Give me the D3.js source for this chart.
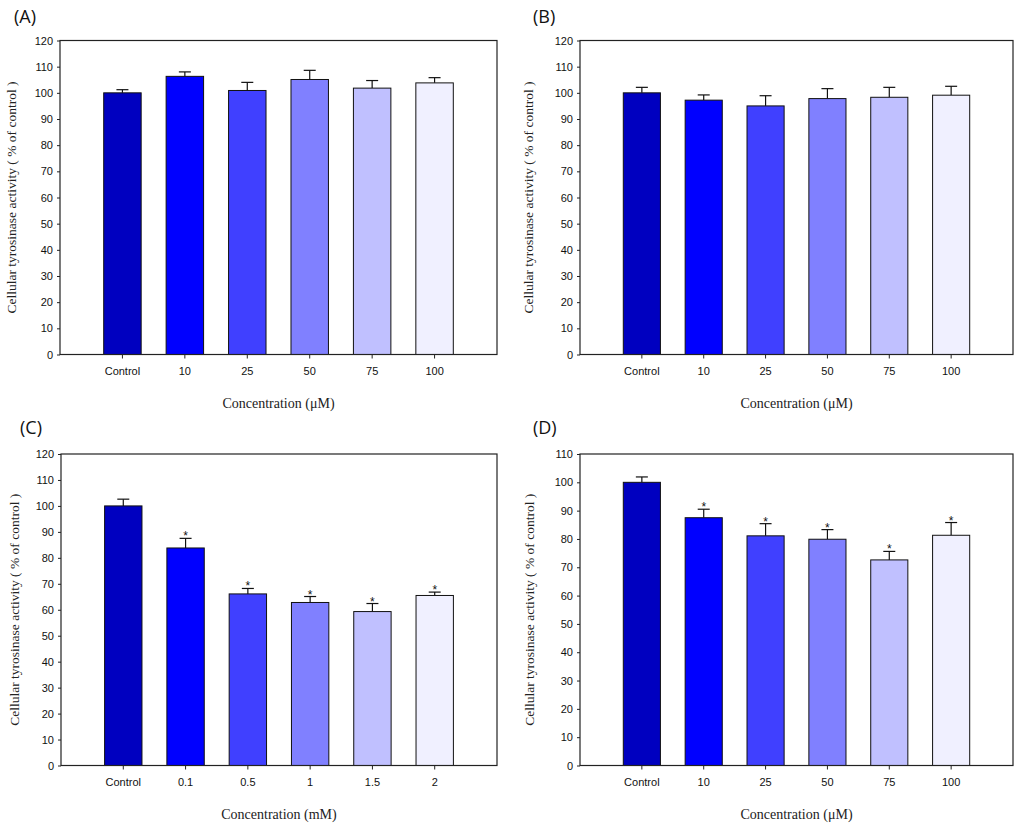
<!DOCTYPE html>
<html>
<head>
<meta charset="utf-8">
<script src="https://cdn.jsdelivr.net/npm/d3@7"></script>
<style>
  body { margin: 0; background: #fff; }
  .tick text { font-family: "Liberation Sans", Arial, sans-serif; font-size: 11px; fill: #111; }
  .tick line { stroke: #222; }
</style>
</head>
<body>
<script>
const categoriesMicro = ['Control', '10', '25', '50', '75', '100'];
const categoriesMilli = ['Control', '0.1', '0.5', '1', '1.5', '2'];
const barColors = ['#0000C0', '#0000FF', '#4040FF', '#8080FF', '#C0C0FF', '#F0F0FF'];

const meansA = [100, 106.3, 100.9, 105.1, 101.8, 103.8];
const errorsA = [1.2, 1.7, 3.1, 3.5, 2.9, 2.0];
const meansB = [100, 97.2, 95.0, 97.8, 98.3, 99.1];
const errorsB = [2.1, 2.0, 3.9, 3.8, 3.8, 3.4];
const meansC = [100, 83.8, 66.1, 62.8, 59.3, 65.5];
const errorsC = [2.6, 3.7, 2.1, 2.3, 3.1, 1.3];
const meansD = [100, 87.5, 81.1, 79.9, 72.6, 81.3];
const errorsD = [1.9, 3.0, 4.3, 3.4, 3.0, 4.5];
const starsC = [false, true, true, true, true, true];
const starsD = [false, true, true, true, true, true];

const ticks120 = d3.range(0, 121, 10);
const ticks110 = d3.range(0, 111, 10);

const Y_TITLE = 'Cellular tyrosinase activity ( % of control )';

const svg = d3.select('body')
  .append('svg')
  .attr('width', 1024)
  .attr('height', 828);

function drawPanel(p) {
  let g = svg.append('g');

  let x = d3.scaleBand()
    .domain(p.cats)
    .range([p.left, p.right])
    .paddingInner(0.4)
    .paddingOuter(0.7);

  let y = d3.scaleLinear()
    .domain([0, p.ymax])
    .range([p.bottom, p.top]);

  let rows = p.cats.map((c, i) => ({ c: c, v: p.means[i], e: p.errs[i], s: p.stars ? p.stars[i] : false, col: barColors[i] }));

  // error bars (upper only)
  g.selectAll('line.err')
    .data(rows)
    .enter()
    .append('line')
    .attr('x1', d => x(d.c) + x.bandwidth() / 2)
    .attr('x2', d => x(d.c) + x.bandwidth() / 2)
    .attr('y1', d => y(d.v))
    .attr('y2', d => y(d.v + d.e))
    .attr('stroke', '#111')
    .attr('stroke-width', 1.2);

  g.selectAll('line.cap')
    .data(rows)
    .enter()
    .append('line')
    .attr('x1', d => x(d.c) + x.bandwidth() / 2 - 6)
    .attr('x2', d => x(d.c) + x.bandwidth() / 2 + 6)
    .attr('y1', d => y(d.v + d.e))
    .attr('y2', d => y(d.v + d.e))
    .attr('stroke', '#111')
    .attr('stroke-width', 1.2);

  g.selectAll('rect.bar')
    .data(rows)
    .enter()
    .append('rect')
    .attr('x', d => x(d.c))
    .attr('y', d => y(d.v))
    .attr('width', x.bandwidth())
    .attr('height', d => y(0) - y(d.v))
    .style('fill', d => d.col)
    .style('stroke', '#111')
    .style('stroke-width', 1);

  g.selectAll('text.star')
    .data(rows.filter(d => d.s))
    .enter()
    .append('text')
    .text('*')
    .attr('x', d => x(d.c) + x.bandwidth() / 2)
    .attr('y', d => y(d.v + d.e) + 2)
    .attr('text-anchor', 'middle')
    .attr('font-family', '"Liberation Sans", Arial, sans-serif')
    .attr('font-size', '12px')
    .attr('fill', '#111');

  // frame
  g.append('rect')
    .attr('x', p.left)
    .attr('y', p.top)
    .attr('width', p.right - p.left)
    .attr('height', p.bottom - p.top)
    .style('fill', 'none')
    .style('stroke', '#222')
    .style('stroke-width', 1.2);

  let yAxis = g.append('g')
    .attr('transform', `translate(${p.left},0)`)
    .call(d3.axisLeft(y).tickValues(p.ticks).tickSize(3).tickSizeOuter(0).tickPadding(4));
  yAxis.select('.domain').remove();

  let xAxis = g.append('g')
    .attr('transform', `translate(0,${p.bottom})`)
    .call(d3.axisBottom(x).tickSize(4).tickSizeOuter(0).tickPadding(9));
  xAxis.select('.domain').remove();

  g.append('text')
    .text(p.xTitle)
    .attr('x', (p.left + p.right) / 2)
    .attr('y', p.bottom + 53)
    .attr('text-anchor', 'middle')
    .attr('font-family', '"Liberation Serif", "Times New Roman", serif')
    .attr('font-size', '14px')
    .attr('fill', '#222');

  g.append('text')
    .text(Y_TITLE)
    .attr('transform', `translate(${p.left - p.yTitleOff},${(p.top + p.bottom) / 2}) rotate(-90)`)
    .attr('text-anchor', 'middle')
    .attr('font-family', '"Liberation Serif", "Times New Roman", serif')
    .attr('font-size', '13.5px')
    .attr('fill', '#222');

  g.append('text')
    .text(p.label)
    .attr('x', p.labelX)
    .attr('y', p.labelY)
    .attr('font-family', '"Open Sans", "Noto Sans", sans-serif')
    .attr('font-size', '18px')
    .attr('fill', '#111');
}

drawPanel({ label: '(A)', labelX: 14, labelY: 23, cats: categoriesMicro, means: meansA, errs: errorsA,
  left: 60, right: 497, top: 40.5, bottom: 354.5, ymax: 120, ticks: ticks120,
  xTitle: 'Concentration (\u03bcM)', yTitleOff: 44 });

drawPanel({ label: '(B)', labelX: 533, labelY: 23, cats: categoriesMicro, means: meansB, errs: errorsB,
  left: 580, right: 1013, top: 40.5, bottom: 354.5, ymax: 120, ticks: ticks120,
  xTitle: 'Concentration (\u03bcM)', yTitleOff: 47 });

drawPanel({ label: '(C)', labelX: 20, labelY: 434, cats: categoriesMilli, means: meansC, errs: errorsC, stars: starsC,
  left: 61, right: 497, top: 454, bottom: 765.5, ymax: 120, ticks: ticks120,
  xTitle: 'Concentration (mM)', yTitleOff: 42 });

drawPanel({ label: '(D)', labelX: 533, labelY: 434, cats: categoriesMicro, means: meansD, errs: errorsD, stars: starsD,
  left: 580, right: 1013, top: 454, bottom: 765.5, ymax: 110, ticks: ticks110,
  xTitle: 'Concentration (\u03bcM)', yTitleOff: 46 });
</script>
</body>
</html>
